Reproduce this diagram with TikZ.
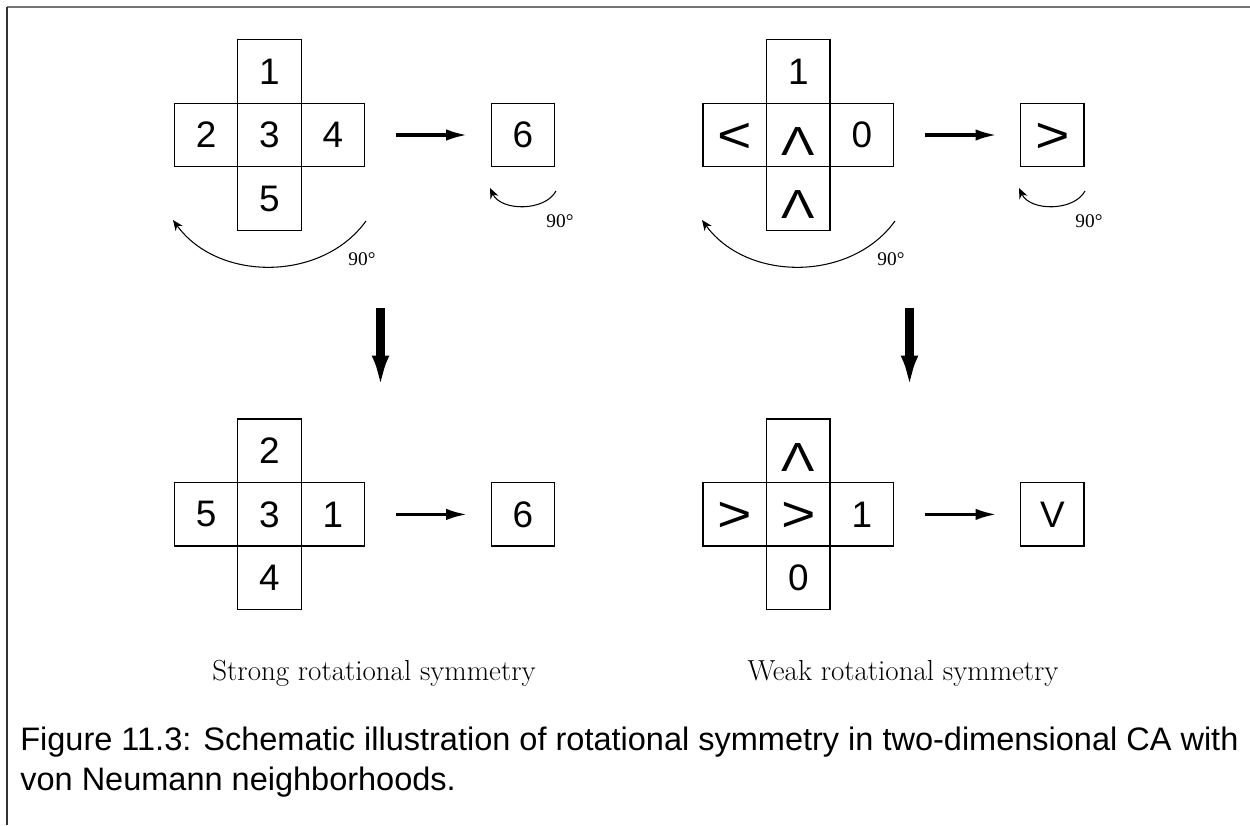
\documentclass[tikz,border=0pt]{standalone}
\usepackage{fontspec}
\usepackage{graphicx}
\newfontfamily\cellfont{Liberation Sans}
\newfontfamily\degfont{Liberation Serif}
\usetikzlibrary{arrows.meta, positioning}

\newcommand{\cLT}{\raisebox{0pt}[\dimexpr\height+3.3pt\relax][0pt]{\scalebox{1.6}[1.36]{<}}}
\newcommand{\cGT}{\raisebox{0pt}[\dimexpr\height+3.3pt\relax][0pt]{\scalebox{1.6}[1.36]{>}}}
\newcommand{\cUP}{\raisebox{0pt}[\dimexpr\height+7pt\relax][0pt]{\scalebox{1.35}[1.1]{Λ}}}

\begin{document}
\begin{tikzpicture}[
  x=0.02cm, y=-0.02cm,
  cell/.style={draw, line width=0.8pt, minimum size=1.27cm, inner sep=0pt,
    outer sep=0pt, font=\cellfont\fontsize{21}{25}\selectfont},
  hz/.style={-{Latex[length=12pt, width=6.5pt]}, line width=1.8pt,
    shorten <=0.62cm, shorten >=0.48cm},
  downarr/.style={-{Latex[length=18.5pt, width=10pt]}, line width=5pt},
  rot/.style={-{Stealth[length=6pt, width=5pt]}, line width=0.6pt},
  deglbl/.style={font=\degfont\fontsize{11}{13}\selectfont},
  sublbl/.style={font=\fontsize{16.5}{20}\selectfont},
  captext/.style={font=\cellfont\fontsize{18.5}{22.7}\selectfont, align=left}
]
\useasboundingbox (0,0) rectangle (1250,825);
% frame
\draw[black!55, line width=1.1pt] (7,7) -- (1250,7);
\draw[black!80, line width=0.6pt] (7,7) -- (7,825);

% strong symmetry, before rotation
\node[cell] (Ac) at (269.5,135) {3};
\node[cell, above=0pt of Ac] (An) {1};
\node[cell, below=0pt of Ac] (As) {5};
\node[cell, left=0pt of Ac] (Aw) {2};
\node[cell, right=0pt of Ac] (Ae) {4};
\node[cell] (Ar) at (523,135) {6};
\draw[hz] (Ae) -- (Ar);

% weak symmetry, before rotation
\node[cell] (Cc) at (798.3,135) {\cUP};
\node[cell, above=0pt of Cc] (Cn) {1};
\node[cell, below=0pt of Cc] (Cs) {\cUP};
\node[cell, left=0pt of Cc] (Cw) {\cLT};
\node[cell, right=0pt of Cc] (Ce) {0};
\node[cell] (Cr) at (1052.4,135) {\cGT};
\draw[hz] (Ce) -- (Cr);

% rotation arrows
\foreach \dx/\k in {0/A,529/C}{
  \draw[rot] (366+\dx,221) .. controls (322+\dx,282) and (218+\dx,282) .. (173+\dx,220);
  \node[deglbl] (\k90) at (362+\dx,259) {90°};
  \draw[rot] (556+\dx,191) .. controls (545+\dx,211.5) and (501+\dx,211.5) .. (490+\dx,188);
  \node[deglbl] (\k90s) at (560+\dx,221) {90°};
}

% rotate
\coordinate (Ad1) at (380.5,308);
\coordinate (Ad2) at (380.5,388);
\draw[downarr] (Ad1) -- (Ad2);
\coordinate (Cd1) at (909.5,308);
\coordinate (Cd2) at (909.5,388);
\draw[downarr] (Cd1) -- (Cd2);

% strong symmetry, after rotation
\node[cell] (Bc) at (269.5,514.4) {3};
\node[cell, above=0pt of Bc] (Bn) {2};
\node[cell, below=0pt of Bc] (Bs) {4};
\node[cell, left=0pt of Bc] (Bw) {5};
\node[cell, right=0pt of Bc] (Be) {1};
\node[cell] (Br) at (523,514.4) {6};
\draw[hz] (Be) -- (Br);

% weak symmetry, after rotation
\node[cell] (Dc) at (798.3,514.4) {\cGT};
\node[cell, above=0pt of Dc] (Dn) {\cUP};
\node[cell, below=0pt of Dc] (Ds) {0};
\node[cell, left=0pt of Dc] (Dw) {\cGT};
\node[cell, right=0pt of Dc] (De) {1};
\node[cell] (Dr) at (1052.4,514.4) {V};
\draw[hz] (De) -- (Dr);

% sub-captions
\node[sublbl, anchor=base] (strong) at (374,680) {Strong rotational symmetry};
\node[sublbl, anchor=base] (weak) at (903,680) {Weak rotational symmetry};

% caption
\node[captext, anchor=base west, inner sep=0pt] (caption) at (20,790)
  {Figure 11.3: Schematic illustration of rotational symmetry in two-dimensional CA with\\
   von Neumann neighborhoods.};
\end{tikzpicture}
\end{document}
